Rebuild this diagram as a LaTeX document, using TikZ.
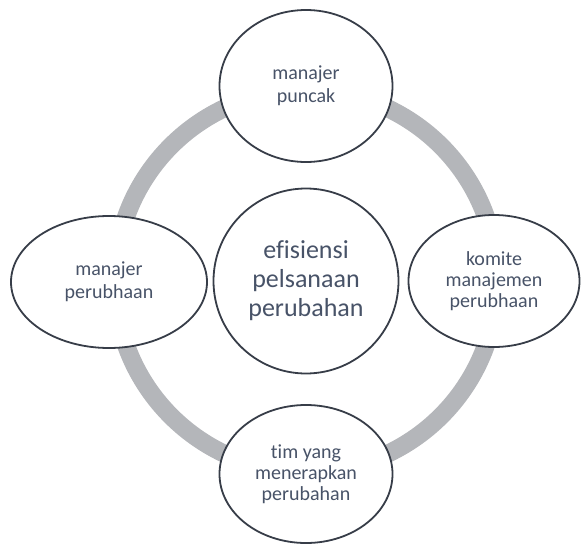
\documentclass[tikz,border=0pt]{standalone}
\usepackage{fontspec}
\setmainfont{Carlito}[Ligatures=NoCommon]
\usepackage{tikz}
\usetikzlibrary{shapes.geometric}

\definecolor{ringgray}{RGB}{180,182,186}
\definecolor{edgegray}{RGB}{55,61,72}
\definecolor{textslate}{RGB}{72,83,104}

\begin{document}
\begin{tikzpicture}[x=1pt, y=-1pt,
    role/.style={ellipse, draw=edgegray, line width=1.8pt, fill=white, text=textslate,
        align=center, inner sep=0pt, font=\fontsize{20}{23}\selectfont},
    ring/.style={draw=ringgray, line width=18pt}]
    \useasboundingbox (0,0) rectangle (581,546);
    % centre circle, then the grey ring round it
    \node[role, minimum width=185pt, minimum height=185pt, font=\fontsize{26}{29}\selectfont]
        (efisiensi) at (306,281) {efisiensi\\pelsanaan\\perubahan};
    \draw[ring] (efisiensi.center) circle [radius=191pt];
    % the four roles on the ring
    \node[role, minimum width=173pt, minimum height=152pt] (puncak) at (306,86) {manajer\\puncak};
    \node[role, minimum width=196pt, minimum height=132pt] (manajer) at (109,282) {manajer\\perubhaan};
    \node[role, minimum width=171pt, minimum height=132pt, font=\fontsize{20}{21}\selectfont]
        (komite) at (494,281) {komite\\manajemen\\perubhaan};
    \node[role, minimum width=173pt, minimum height=138pt, font=\fontsize{20}{21}\selectfont]
        (tim) at (306,474) {tim yang\\menerapkan\\perubahan};
\end{tikzpicture}
\end{document}
